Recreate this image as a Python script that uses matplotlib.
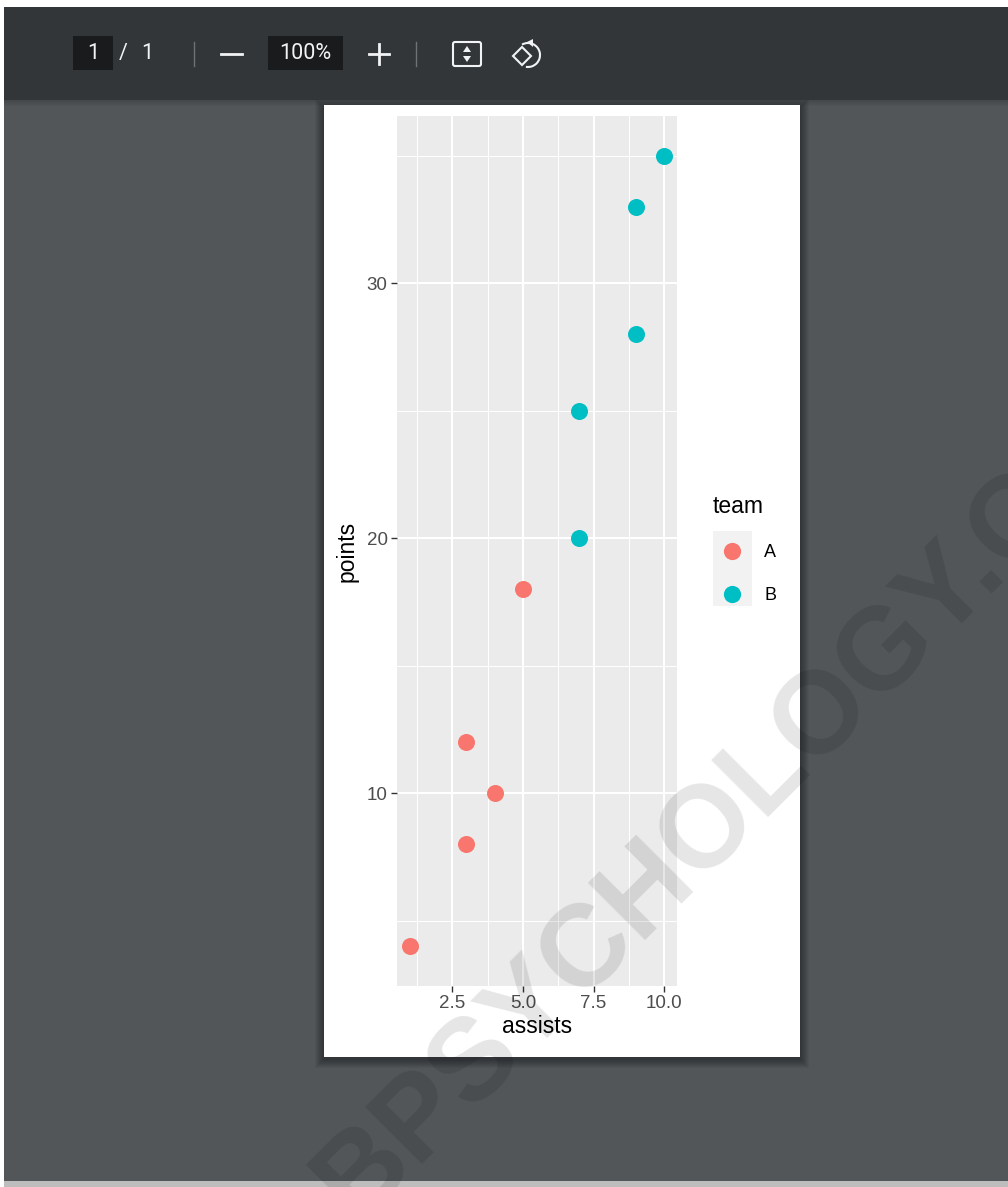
import matplotlib
matplotlib.use("Agg")
import matplotlib.pyplot as plt
from matplotlib.lines import Line2D
from matplotlib.patches import Rectangle, FancyBboxPatch, Arc, Polygon

# ---- data ----
team_a_assists = [1, 3, 3, 4, 5]
team_a_points = [4, 8, 12, 10, 18]
team_b_assists = [7, 7, 9, 9, 10]
team_b_points = [20, 25, 28, 33, 35]
x_ticks = [2.5, 5.0, 7.5, 10.0]
x_minor = [1.25, 3.75, 6.25, 8.75]
y_ticks = [10, 20, 30]
y_minor = [5, 15, 25, 35]
team_names = ["A", "B"]
team_colors = ["#F8766D", "#00BFC4"]

W, H = 1008, 1187
plt.rcParams["font.family"] = ["Liberation Sans", "DejaVu Sans"]
fig = plt.figure(figsize=(W / 100, H / 100), dpi=100, facecolor="#525659")

# ---- viewer chrome, in pixel coordinates ----
bg = fig.add_axes([0, 0, 1, 1], zorder=-1)
bg.set_xlim(0, W)
bg.set_ylim(H, 0)
bg.axis("off")


def box(x0, y0, x1, y1, color, **kw):
    bg.add_patch(Rectangle((x0, y0), x1 - x0, y1 - y0, facecolor=color, edgecolor="none", **kw))


box(0, 0, W, H, "#525659")
box(0, 0, W, 7, "white")
box(0, 0, 4, H, "white")
box(4, 1181, W, H, "#BDBDBD")
for i in range(9, 0, -1):
    box(324 - i, 105 - i + 3, 800 + i, 1057 + i + 2, "black", alpha=0.045)
box(4, 7, W, 100, "#323639")
for i in range(6):
    box(4, 100 + i, W, 101 + i, "black", alpha=0.16 - 0.027 * i)
box(324, 105, 800, 1057, "white")

box(73, 36, 113, 70, "#191B1C")
box(268, 36, 343, 70, "#191B1C")
chrome = dict(color="#F1F3F4", ha="center", va="center", fontsize=15.5, family="Roboto")
bg.text(93, 53.5, "1", **chrome)
bg.text(123, 53.5, "/", **chrome)
bg.text(147, 53.5, "1", **chrome)
bg.text(305.5, 53.5, "100%", **chrome)
for x in (194, 416):
    bg.plot([x, x], [42, 66], color="#6E7275", lw=1)
bg.plot([221, 242], [54, 54], color="#F1F3F4", lw=2)
bg.plot([369, 389], [54, 54], color="#F1F3F4", lw=2)
bg.plot([379, 379], [44, 64], color="#F1F3F4", lw=2)
bg.add_patch(FancyBboxPatch((453, 42), 28, 24, boxstyle="round,pad=0,rounding_size=2",
                            facecolor="none", edgecolor="#F1F3F4", lw=1.5))
bg.add_patch(Polygon([[467, 46], [463, 52], [471, 52]], facecolor="#F1F3F4", edgecolor="none"))
bg.add_patch(Polygon([[467, 62], [463, 56], [471, 56]], facecolor="#F1F3F4", edgecolor="none"))
bg.add_patch(Polygon([[513, 56], [522, 47], [531, 56], [522, 65]], facecolor="none",
                     edgecolor="#F1F3F4", lw=1.5))
bg.add_patch(Arc((528, 55), 24, 24, theta1=-120, theta2=100, edgecolor="#F1F3F4", lw=1.5))
bg.add_patch(Polygon([[527, 42], [533, 39], [533, 47]], facecolor="#F1F3F4", edgecolor="none"))

# ---- chart ----
left, right, top, bottom = 397, 677, 116, 986
ax = fig.add_axes([left / W, 1 - bottom / H, (right - left) / W, (bottom - top) / H], zorder=1)
ax.set_facecolor("#EBEBEB")
for s in ax.spines.values():
    s.set_visible(False)
ax.set_xlim(0.55, 10.45)
ax.set_ylim(2.45, 36.55)
ax.set_axisbelow(True)
ax.set_xticks(x_ticks)
ax.set_xticklabels([f"{v:.1f}" for v in x_ticks])
ax.set_yticks(y_ticks)
ax.set_xticks(x_minor, minor=True)
ax.set_yticks(y_minor, minor=True)
ax.grid(True, which="major", color="white", lw=1.5)
ax.grid(True, which="minor", color="white", lw=0.75)
ax.tick_params(which="major", length=4.3, width=1, color="#333333", labelcolor="#4D4D4D",
               labelsize=13.5, pad=2.5)
ax.tick_params(which="minor", length=0)
ax.scatter(team_a_assists, team_a_points, s=150, color=team_colors[0], linewidths=0, zorder=3, clip_on=False)
ax.scatter(team_b_assists, team_b_points, s=150, color=team_colors[1], linewidths=0, zorder=3, clip_on=False)
ax.set_xlabel("assists", fontsize=16.5, labelpad=2, color="black")
ax.set_ylabel("points", fontsize=16.5, labelpad=6, color="black")

# ---- legend ----
box(713, 531, 752, 606, "#F2F2F2")
handles = [Line2D([], [], ls="none", marker="o", ms=12.4, mfc=c, mec="none") for c in team_colors]
fig.legend(handles, team_names, title="team", loc="upper left",
           bbox_to_anchor=(713 / W, 1 - 495 / H), frameon=False, alignment="left",
           fontsize=13, title_fontsize=16.5, borderpad=0, borderaxespad=0,
           labelspacing=1.45, handletextpad=0.75, handlelength=2.1)

# ---- watermark ----
fig.text(356 / W, 1 - 1222 / H, "BPSYCHOLOGY.O", rotation=45, rotation_mode="anchor",
         ha="left", va="baseline", fontsize=83.5, fontweight="bold", color="black",
         alpha=0.1, zorder=10)

fig.savefig("out.png", dpi=100, facecolor=fig.get_facecolor())
